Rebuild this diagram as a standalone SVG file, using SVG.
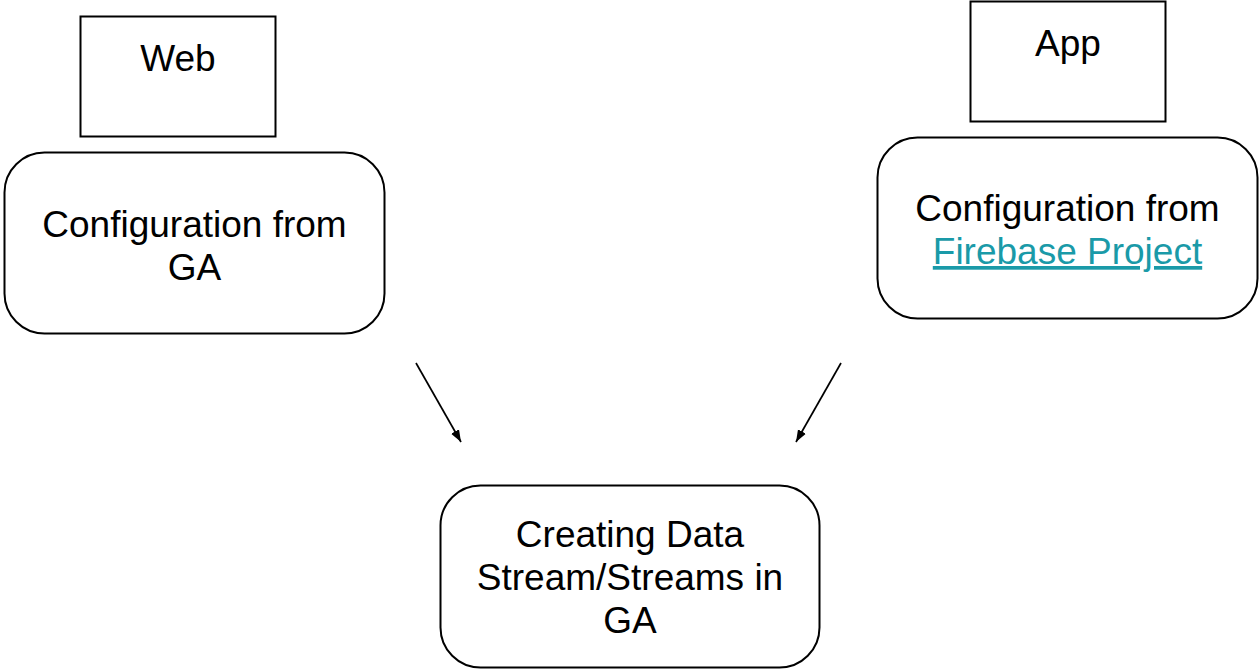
<svg xmlns="http://www.w3.org/2000/svg" width="1259" height="669" viewBox="0 0 1259 669">
<style>
.box{fill:#fff;stroke:#000;stroke-width:2}
.t{font-family:"Liberation Sans",Arial,sans-serif;font-size:37px;fill:#000;text-anchor:middle}
.link{fill:#1a9aa8;text-decoration:underline}
.edge{stroke:#000;stroke-width:1.7;fill:none}
</style>
<defs>
<marker id="ah" markerWidth="13" markerHeight="11" refX="12" refY="5.5" orient="auto" markerUnits="userSpaceOnUse">
<path d="M0,1 L12,5.5 L0,10 Z" fill="#000"/>
</marker>
</defs>
<rect width="1259" height="669" fill="#fff"/>
<g id="web">
<rect class="box" x="80.5" y="16.5" width="195" height="120"/>
<text class="t" x="178" y="71">Web</text>
</g>
<g id="config-ga">
<rect class="box" x="4.5" y="152.5" width="380" height="181" rx="40"/>
<text class="t" x="194.5" y="237">Configuration from</text>
<text class="t" x="194.5" y="280">GA</text>
</g>
<g id="app">
<rect class="box" x="970.5" y="1.5" width="195" height="120"/>
<text class="t" x="1068" y="56">App</text>
</g>
<g id="config-firebase">
<rect class="box" x="877.5" y="137.5" width="380" height="181" rx="40"/>
<text class="t" x="1067.5" y="221">Configuration from</text>
<text class="t link" x="1067.5" y="264">Firebase Project</text>
</g>
<g id="creating">
<rect class="box" x="440.5" y="485.5" width="379" height="182" rx="40"/>
<text class="t" x="630" y="547">Creating Data</text>
<text class="t" x="630" y="590">Stream/Streams in</text>
<text class="t" x="630" y="633">GA</text>
</g>
<g id="connectors">
<line class="edge" x1="416" y1="363" x2="461" y2="442" marker-end="url(#ah)"/>
<line class="edge" x1="841" y1="363" x2="796" y2="442" marker-end="url(#ah)"/>
</g>
</svg>
